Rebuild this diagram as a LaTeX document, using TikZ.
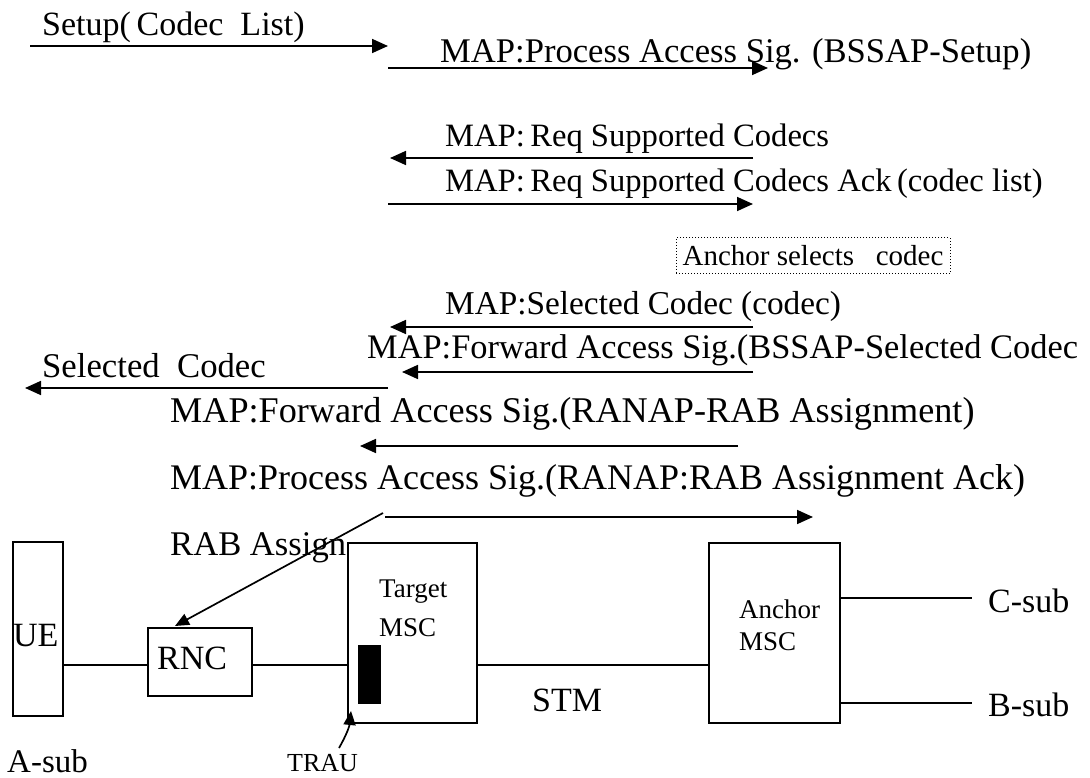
\documentclass[tikz,border=0pt]{standalone}
\usepackage{fontspec}
\setmainfont{Liberation Serif}
\usetikzlibrary{arrows.meta}
\begin{document}
\begin{tikzpicture}[x=1pt,y=-1pt,
  big/.style={font=\fontsize{34}{40}\selectfont, inner sep=0pt, anchor=base west},
  small/.style={font=\fontsize{27}{30}\selectfont, inner sep=0pt, anchor=base west},
  msg/.style={line width=1.7pt, -{Triangle[length=16pt,width=14pt]}},
  wire/.style={line width=1.4pt},
  box/.style={draw, line width=1.4pt, inner sep=0pt}
]
\useasboundingbox (0,0) rectangle (1090,778);
% messages
\node[big] (t1) at (42,36) {Setup(\thinspace Codec~ List)};
\coordinate (a1s) at (30,46); \coordinate (a1e) at (388,46);
\draw[msg] (a1s) -- (a1e);

\node[big, font=\fontsize{34.6}{40}\selectfont] (t2) at (440,63) {MAP:Process Access Sig. (BSSAP-Setup)};
\coordinate (a2s) at (388,68); \coordinate (a2e) at (768,68);
\draw[msg] (a2s) -- (a2e);

\node[big, font=\fontsize{32.6}{40}\selectfont] (t3) at (445,147) {MAP:\thinspace Req Supported Codecs};
\coordinate (a3s) at (753,158); \coordinate (a3e) at (390,158);
\draw[msg] (a3s) -- (a3e);

\node[big, font=\fontsize{32.6}{40}\selectfont] (t4) at (445,192) {MAP:\thinspace Req Supported Codecs Ack\thinspace(codec list)};
\coordinate (a4s) at (388,204); \coordinate (a4e) at (753,204);
\draw[msg] (a4s) -- (a4e);

\node[draw, dotted, line width=1pt, minimum width=274pt, minimum height=36pt,
  font=\fontsize{29}{32}\selectfont, inner sep=0pt] (sel) at (813,256) {Anchor selects~~~codec};

\node[big, font=\fontsize{33.3}{40}\selectfont] (t5) at (445,314) {MAP:Selected Codec (codec)};
\coordinate (a5s) at (753,327); \coordinate (a5e) at (390,327);
\draw[msg] (a5s) -- (a5e);

\node[big, font=\fontsize{34.4}{40}\selectfont] (t6) at (367,358) {MAP:Forward Access Sig.(BSSAP-Selected Codec};
\coordinate (a6s) at (753,372); \coordinate (a6e) at (402,372);
\draw[msg] (a6s) -- (a6e);

\node[big, font=\fontsize{34.7}{40}\selectfont] (t7) at (42,377) {Selected~~Codec};
\coordinate (a7s) at (388,388); \coordinate (a7e) at (25,388);
\draw[msg] (a7s) -- (a7e);

\node[big, font=\fontsize{36.2}{40}\selectfont] (t8) at (170,422) {MAP:Forward Access Sig.(RANAP-RAB Assignment)};
\coordinate (a8s) at (738,446); \coordinate (a8e) at (360,446);
\draw[msg] (a8s) -- (a8e);

\node[big, font=\fontsize{36}{40}\selectfont] (t9) at (170,489) {MAP:Process Access Sig.(RANAP:RAB Assignment Ack)};
\coordinate (a9s) at (385,517); \coordinate (a9e) at (813,517);
\draw[msg] (a9s) -- (a9e);

\node[big, font=\fontsize{34.6}{40}\selectfont] (rab) at (170,555) {RAB Assign};

% network elements
\coordinate (bus) at (0,665);
\node[box, minimum width=50pt, minimum height=174pt] (ue) at (38,629) {};
\node[big] (uet) at (13,646) {UE};
\node[box, minimum width=104pt, minimum height=68pt] (rnc) at (200,662) {};
\node[big] (rnct) at (157,669) {RNC};
\node[box, minimum width=129pt, minimum height=180pt] (tgt) at (412.5,633) {};
\node[small] (tgt1) at (379,597) {Target};
\node[small] (tgt2) at (379,636) {MSC};
\node[fill=black, minimum width=23pt, minimum height=59pt, inner sep=0pt] (trau) at (369.5,674.5) {};
\node[box, minimum width=131pt, minimum height=180pt] (anc) at (774.5,633) {};
\node[small] (anc1) at (739,618) {Anchor};
\node[small] (anc2) at (739,650) {MSC};

\coordinate (p1) at (383,513); \coordinate (p2) at (175,626);
\draw[msg, -{Triangle[length=14pt,width=12pt]}] (p1) -- (p2);

\draw[wire] (ue.east |- bus) -- (rnc.west |- bus);
\draw[wire] (rnc.east |- bus) -- (tgt.west |- bus);
\draw[wire] (tgt.east |- bus) -- (anc.west |- bus);
\node[big] (stm) at (532,711) {STM};

\coordinate (cs) at (972,598); \coordinate (bs) at (972,703);
\draw[wire] (anc.east |- cs) -- (cs);
\draw[wire] (anc.east |- bs) -- (bs);
\node[big] (csub) at (988,612) {C-sub};
\node[big] (bsub) at (988,716) {B-sub};

\coordinate (tr) at (339,748); \coordinate (trtip) at (351,711);
\draw[msg, -{Triangle[length=14pt,width=12pt]}] (tr) to[bend right=12] (trtip);
\node[small, font=\fontsize{26}{30}\selectfont] (traut) at (287,771) {TRAU};
\node[big, font=\fontsize{33}{40}\selectfont] (asub) at (7,772) {A-sub};
\end{tikzpicture}
\end{document}
